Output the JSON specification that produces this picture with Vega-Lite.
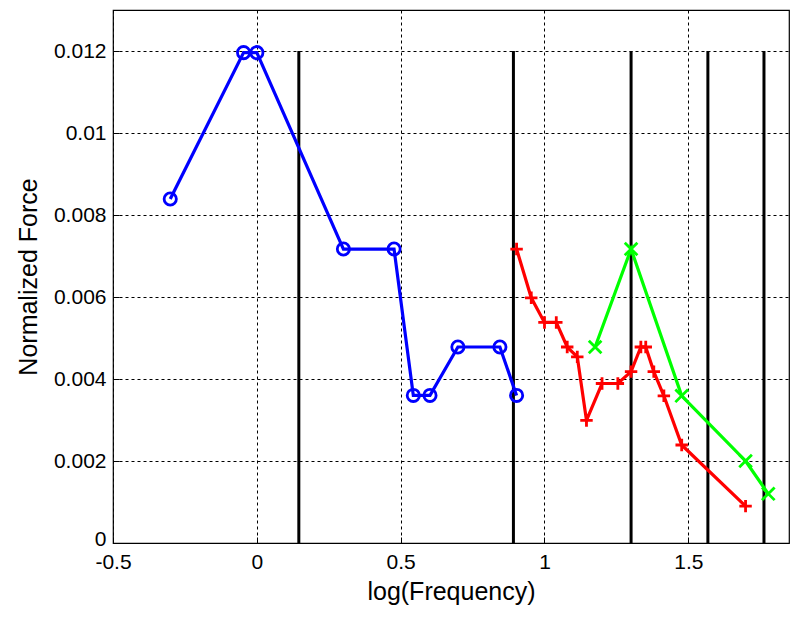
{
  "$schema": "https://vega.github.io/schema/vega-lite/v6.json",
  "width": 676,
  "height": 533,
  "autosize": "none",
  "padding": {"left": 113, "top": 10, "right": 11, "bottom": 76},
  "background": "white",
  "config": {
    "view": {"stroke": "black", "strokeWidth": 1.2},
    "axis": {
      "domain": false,
      "grid": true,
      "gridColor": "black",
      "gridOpacity": 1,
      "gridWidth": 1,
      "gridDash": [3, 3],
      "ticks": true,
      "tickColor": "black",
      "tickWidth": 1,
      "tickSize": -6,
      "labelFlush": false,
      "labelFont": "Liberation Sans",
      "labelFontSize": 21,
      "labelColor": "black",
      "titleFont": "Liberation Sans",
      "titleFontSize": 25,
      "titleFontWeight": "normal",
      "titleColor": "black"
    }
  },
  "datasets": {
    "series": [
      {"series": "blue", "x": -0.301, "y": 0.00839},
      {"series": "blue", "x": -0.046, "y": 0.01196},
      {"series": "blue", "x": 0.0, "y": 0.01196},
      {"series": "blue", "x": 0.301, "y": 0.00717},
      {"series": "blue", "x": 0.477, "y": 0.00717},
      {"series": "blue", "x": 0.544, "y": 0.0036},
      {"series": "blue", "x": 0.602, "y": 0.0036},
      {"series": "blue", "x": 0.699, "y": 0.00478},
      {"series": "blue", "x": 0.845, "y": 0.00478},
      {"series": "blue", "x": 0.903, "y": 0.0036},
      {"series": "red", "x": 0.903, "y": 0.00717},
      {"series": "red", "x": 0.954, "y": 0.00598},
      {"series": "red", "x": 1.0, "y": 0.00538},
      {"series": "red", "x": 1.041, "y": 0.00538},
      {"series": "red", "x": 1.079, "y": 0.00478},
      {"series": "red", "x": 1.114, "y": 0.00454},
      {"series": "red", "x": 1.146, "y": 0.00299},
      {"series": "red", "x": 1.2, "y": 0.00389},
      {"series": "red", "x": 1.255, "y": 0.00389},
      {"series": "red", "x": 1.301, "y": 0.00418},
      {"series": "red", "x": 1.335, "y": 0.00478},
      {"series": "red", "x": 1.352, "y": 0.00478},
      {"series": "red", "x": 1.38, "y": 0.00418},
      {"series": "red", "x": 1.415, "y": 0.00359},
      {"series": "red", "x": 1.477, "y": 0.00239},
      {"series": "red", "x": 1.699, "y": 0.0009},
      {"series": "green", "x": 1.176, "y": 0.00478},
      {"series": "green", "x": 1.301, "y": 0.00717},
      {"series": "green", "x": 1.477, "y": 0.00359},
      {"series": "green", "x": 1.699, "y": 0.002},
      {"series": "green", "x": 1.778, "y": 0.0012}
    ],
    "vlines": [
      {"x": 0.146},
      {"x": 0.892},
      {"x": 1.301},
      {"x": 1.568},
      {"x": 1.763}
    ]
  },
  "layer": [
    {
      "data": {"name": "vlines"},
      "mark": {"type": "rule", "color": "black", "strokeWidth": 3},
      "encoding": {
        "x": {
          "field": "x",
          "type": "quantitative",
          "scale": {"domain": [-0.5, 1.85], "nice": false, "zero": false},
          "axis": {
            "values": [-0.5, 0, 0.5, 1, 1.5],
            "labelExpr": "replace(format(datum.value, '~g'), '\u2212', '-')",
            "labelPadding": 14,
            "titlePadding": 7,
            "title": "log(Frequency)"
          }
        },
        "y": {
          "datum": 0,
          "type": "quantitative",
          "scale": {"domain": [0, 0.013], "nice": false},
          "axis": {
            "values": [0, 0.002, 0.004, 0.006, 0.008, 0.01, 0.012],
            "format": "~g",
            "labelPadding": 13,
            "labelOffset": {"condition": {"test": "datum.value == 0", "value": -4}, "value": 0},
            "titlePadding": 12,
            "title": "Normalized Force"
          }
        },
        "y2": {"datum": 0.012}
      }
    },
    {
      "data": {"name": "series"},
      "mark": {"type": "line", "strokeWidth": 3.2},
      "encoding": {
        "x": {"field": "x", "type": "quantitative"},
        "y": {"field": "y", "type": "quantitative"},
        "color": {
          "field": "series",
          "type": "nominal",
          "scale": {"domain": ["blue", "red", "green"], "range": ["#0000ff", "#ff0000", "#00ff00"]},
          "legend": null
        }
      }
    },
    {
      "data": {"name": "series"},
      "mark": {"type": "point", "filled": false, "strokeWidth": 2.8, "opacity": 1},
      "encoding": {
        "x": {"field": "x", "type": "quantitative"},
        "y": {"field": "y", "type": "quantitative"},
        "color": {
          "field": "series",
          "type": "nominal",
          "scale": {"domain": ["blue", "red", "green"], "range": ["#0000ff", "#ff0000", "#00ff00"]},
          "legend": null
        },
        "shape": {
          "field": "series",
          "type": "nominal",
          "scale": {"domain": ["blue", "red", "green"], "range": ["circle", "M-1,0L1,0M0,-1L0,1", "M-1,-1L1,1M-1,1L1,-1"]},
          "legend": null
        },
        "size": {
          "field": "series",
          "type": "nominal",
          "scale": {"domain": ["blue", "red", "green"], "range": [150, 160, 110]},
          "legend": null
        }
      }
    }
  ]
}
